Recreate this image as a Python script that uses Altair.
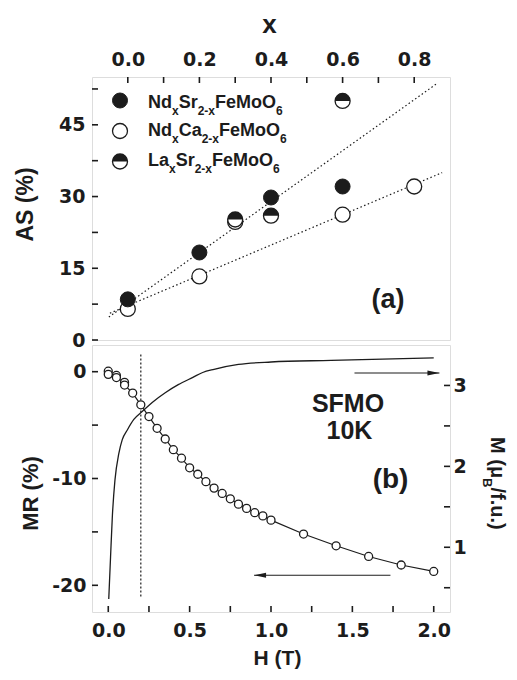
import altair as alt
import pandas as pd

# ---------------- panel (a) data ----------------
x_ndsr = [0.0, 0.2, 0.4, 0.6]
as_ndsr = [8.5, 18.3, 29.8, 32.1]
x_ndca = [0.0, 0.2, 0.3, 0.6, 0.8]
as_ndca = [6.5, 13.3, 24.7, 26.2, 32.1]
x_lasr = [0.3, 0.4, 0.6]
as_lasr = [25.2, 26.0, 50.0]
fit_upper_x = [-0.053, 0.861]
fit_upper_y = [4.8, 53.5]
fit_lower_x = [-0.05, 0.878]
fit_lower_y = [5.6, 35.0]
x_ticks = [0.0, 0.1, 0.2, 0.3, 0.4, 0.5, 0.6, 0.7, 0.8]
as_ticks = [0, 7.5, 15, 22.5, 30, 37.5, 45, 52.5]

# ---------------- panel (b) data ----------------
h_mr = [0.0, 0.0, 0.05, 0.05, 0.1, 0.1, 0.15, 0.2, 0.25, 0.3, 0.35, 0.4, 0.45, 0.5,
        0.55, 0.6, 0.65, 0.7, 0.75, 0.8, 0.85, 0.9, 0.95, 1.0, 1.2, 1.4, 1.6, 1.8, 2.0]
mr = [0.05, -0.25, -0.35, -0.55, -1.0, -1.25, -2.0, -3.1, -4.2, -5.3, -6.3, -7.3, -8.1, -9.0,
      -9.6, -10.3, -10.9, -11.4, -11.9, -12.4, -12.8, -13.2, -13.5, -13.9, -15.2, -16.3, -17.3, -18.1, -18.7]
h_m = [0.003, 0.014, 0.025, 0.041, 0.065, 0.086, 0.117, 0.157, 0.21, 0.27, 0.35, 0.43,
       0.52, 0.58, 0.65, 0.8, 1.0, 1.37, 2.0]
m = [0.36, 0.88, 1.38, 1.83, 2.16, 2.33, 2.45, 2.58, 2.68, 2.79, 2.91, 3.01,
     3.10, 3.16, 3.20, 3.26, 3.29, 3.31, 3.34]
h_ticks = [0.0, 0.25, 0.5, 0.75, 1.0, 1.25, 1.5, 1.75, 2.0]
mr_ticks = [-20, -15, -10, -5, 0]
m_ticks = [0.5, 1.0, 1.5, 2.0, 2.5, 3.0]

legend_rows = [
    [("Nd", 0), ("x", 1), ("Sr", 0), ("2-x", 1), ("FeMoO", 0), ("6", 1)],
    [("Nd", 0), ("x", 1), ("Ca", 0), ("2-x", 1), ("FeMoO", 0), ("6", 1)],
    [("La", 0), ("x", 1), ("Sr", 0), ("2-x", 1), ("FeMoO", 0), ("6", 1)],
]
m_title = [("M (μ", 0), ("B", 1), ("/f.u.)", 0)]

# ---------------- styling ----------------
INK = "#1c1c1c"
TICK = INK
LAB_FONT = "DejaVu Sans"
TXT_FONT = "Liberation Sans"
W, HA, HB, TS = 358, 263, 267, 6

# Arial/Liberation Sans Bold advance widths (per 1000 em)
AW = {" ": 278, "(": 333, ")": 333, "%": 889, "-": 333, ".": 278, "/": 278,
      "A": 722, "B": 722, "C": 722, "F": 611, "L": 611, "M": 833, "N": 722, "O": 778,
      "S": 667, "a": 556, "d": 611, "e": 556, "f": 333, "o": 611, "r": 389, "u": 611,
      "x": 556, "μ": 611}


def tw(s, fs):
    return sum(AW.get(c, 556) for c in s) * fs / 1000.0


def axis(**kw):
    base = dict(ticks=False, domain=False, grid=False,
                labelFont=LAB_FONT, labelFontSize=19, labelFontWeight="bold", labelColor=INK,
                labelOverlap=False, labelFlush=False,
                titleFont=TXT_FONT, titleFontWeight="bold", titleColor=INK)
    base.update(kw)
    return alt.Axis(**base)


ax_xa = axis(orient="top", values=x_ticks, labelPadding=8,
             labelExpr="round(datum.value*10) % 2 == 0 ? format(datum.value, '.1f') : ''",
             title="x", titleFontSize=26, titleX=177, titleY=-45, titleBaseline="alphabetic",
             titleAlign="center", titleAngle=0)
ax_ya = axis(orient="left", values=as_ticks, labelPadding=7,
             labelExpr="datum.value % 15 == 0 ? '' + datum.value : ''",
             title="AS (%)", titleFontSize=23, titleX=-60, titleY=127, titleAngle=270,
             titleBaseline="alphabetic", titleAlign="center")
ax_xb = axis(orient="bottom", values=h_ticks, labelPadding=9,
             labelExpr="round(datum.value*4) % 2 == 0 ? format(datum.value, '.1f') : ''",
             title="H (T)", titleFontSize=21, titleX=185, titleY=52, titleBaseline="alphabetic",
             titleAlign="center", titleAngle=0)
ax_mr = axis(orient="left", values=mr_ticks, labelPadding=6,
             labelExpr="datum.value % 10 == 0 ? '' + datum.value : ''",
             title="MR (%)", titleFontSize=22, titleX=-55, titleY=148, titleAngle=270,
             titleBaseline="alphabetic", titleAlign="center")
ax_m = axis(orient="right", values=m_ticks, labelPadding=3,
            labelExpr="datum.value % 1 == 0 ? '' + datum.value : ''", title=None)

sc_xa = alt.Scale(domain=[-0.1, 0.9], nice=False, zero=False)
sc_ya = alt.Scale(domain=[0, 55], nice=False, zero=False)
sc_xb = alt.Scale(domain=[-0.1, 2.1], nice=False, zero=False)
sc_mr = alt.Scale(domain=[-22.5, 2.5], nice=False, zero=False)
sc_m = alt.Scale(domain=[0.2, 3.5], nice=False, zero=False)


def XA(f):
    return alt.X(f"{f}:Q", scale=sc_xa, axis=ax_xa)


def YA(f):
    return alt.Y(f"{f}:Q", scale=sc_ya, axis=ax_ya)


def XB(f):
    return alt.X(f"{f}:Q", scale=sc_xb, axis=ax_xb)


def YMR(f):
    return alt.Y(f"{f}:Q", scale=sc_mr, axis=ax_mr)


def YM(f):
    return alt.Y(f"{f}:Q", scale=sc_m, axis=ax_m)


def tick_rules_x(values, enc, at_top, height):
    df = pd.DataFrame({"t": values})
    y0, y1 = (0, TS) if at_top else (height, height - TS)
    return alt.Chart(df).mark_rule(strokeWidth=1.6, color=TICK).encode(
        enc("t"), y=alt.value(y0), y2=alt.value(y1))


def tick_rules_y(values, enc, at_left):
    df = pd.DataFrame({"t": values})
    x0, x1 = (0, TS) if at_left else (W, W - TS)
    return alt.Chart(df).mark_rule(strokeWidth=1.6, color=TICK).encode(
        enc("t"), x=alt.value(x0), x2=alt.value(x1))


HALF = "M -1 0 A 1 1 0 0 1 1 0 Z"
BIG = 225


def open_pt(size):
    return alt.Chart().mark_point(shape="circle", filled=True, fill="white", stroke=INK,
                                  strokeWidth=1.3, size=size, opacity=1)


def text_pieces(parts, x0, y0, main_fs, sub_fs, sub_shift):
    layers = []
    pos = 0.0
    for t, sub in parts:
        fs = sub_fs if sub else main_fs
        layers.append(alt.Chart().mark_text(text=t, font=TXT_FONT, fontSize=fs, fontWeight="bold",
                                            align="left", baseline="alphabetic", color=INK)
                      .encode(x=alt.value(x0 + pos), y=alt.value(y0 + (sub_shift if sub else 0))))
        pos += tw(t, fs)
    return layers


# ---------------- panel (a) ----------------
df_fit = pd.DataFrame({"x": fit_upper_x + fit_lower_x, "v": fit_upper_y + fit_lower_y,
                       "g": ["u", "u", "l", "l"]})
df_ndsr = pd.DataFrame({"x": x_ndsr, "v": as_ndsr})
df_ndca = pd.DataFrame({"x": x_ndca, "v": as_ndca})
df_lasr = pd.DataFrame({"x": x_lasr, "v": as_lasr})

fits = alt.Chart(df_fit).mark_line(strokeDash=[1.5, 2.5], strokeWidth=1.2, color=INK).encode(
    XA("x"), YA("v"), detail="g:N")
ndca = open_pt(BIG).properties(data=df_ndca).encode(XA("x"), YA("v"))
ndsr = alt.Chart(df_ndsr).mark_point(shape="circle", filled=True, fill=INK, stroke=INK,
                                      strokeWidth=1, size=BIG, opacity=1).encode(XA("x"), YA("v"))
lasr_bg = open_pt(BIG).properties(data=df_lasr).encode(XA("x"), YA("v"))
lasr_top = alt.Chart(df_lasr).mark_point(shape=HALF, filled=True, fill=INK, strokeWidth=0,
                                          size=BIG, opacity=1).encode(XA("x"), YA("v"))

leg_y = [23.5, 54, 84.5]
leg_base = [30.5, 59, 88.5]
leg = [
    alt.Chart().mark_point(shape="circle", filled=True, fill=INK, stroke=INK, strokeWidth=1,
                           size=BIG, opacity=1).encode(x=alt.value(28), y=alt.value(leg_y[0])),
    open_pt(BIG).encode(x=alt.value(28), y=alt.value(leg_y[1])),
    open_pt(BIG).encode(x=alt.value(28), y=alt.value(leg_y[2])),
    alt.Chart().mark_point(shape=HALF, filled=True, fill=INK, strokeWidth=0, size=BIG,
                           opacity=1).encode(x=alt.value(28), y=alt.value(leg_y[2])),
]
for row, base in zip(legend_rows, leg_base):
    leg += text_pieces(row, 56, base, 18, 12, 7)

label_a = alt.Chart().mark_text(text="(a)", font=TXT_FONT, fontSize=27, fontWeight="bold",
                                align="center", baseline="alphabetic", color=INK).encode(
    x=alt.value(296), y=alt.value(231))

panel_a = alt.layer(
    fits, ndca, ndsr, lasr_bg, lasr_top, *leg, label_a,
    tick_rules_x(x_ticks, XA, True, HA), tick_rules_y(as_ticks, YA, True),
).properties(width=W, height=HA)

# ---------------- panel (b) ----------------
df_mr = pd.DataFrame({"h": h_mr, "mr": mr, "i": list(range(len(h_mr)))})
df_m = pd.DataFrame({"h": h_m, "m": m})
df_vline = pd.DataFrame({"h": [0.2], "y1": [1.6], "y2": [-21.2]})
df_arrows = pd.DataFrame({"h1": [1.513, 1.734], "h2": [2.035, 0.896], "y": [-0.12, -19.06]})

vline = alt.Chart(df_vline).mark_rule(strokeDash=[2, 2], strokeWidth=1.2, color=INK).encode(
    XB("h"), YMR("y1"), y2="y2")
mr_line = alt.Chart(df_mr).mark_line(strokeWidth=1.2, color=INK).encode(
    XB("h"), YMR("mr"), order="i:Q")
mr_pts = open_pt(64).properties(data=df_mr).encode(XB("h"), YMR("mr"))
arrow_lines = alt.Chart(df_arrows).mark_rule(strokeWidth=1.1, color=INK).encode(
    XB("h1"), x2="h2", y=YMR("y"))
head_r = alt.Chart(df_arrows.iloc[[0]]).mark_point(
    shape="M 0 0 L -2 -0.4 L -2 0.4 Z", filled=True, fill=INK, strokeWidth=0, size=144,
    opacity=1).encode(XB("h2"), YMR("y"))
head_l = alt.Chart(df_arrows.iloc[[1]]).mark_point(
    shape="M 0 0 L 2 -0.4 L 2 0.4 Z", filled=True, fill=INK, strokeWidth=0, size=144,
    opacity=1).encode(XB("h2"), YMR("y"))


def ann(t, x, y, fs):
    return alt.Chart().mark_text(text=t, font=TXT_FONT, fontSize=fs, fontWeight="bold",
                                 align="center", baseline="alphabetic", color=INK).encode(
        x=alt.value(x), y=alt.value(y))


texts_b = [ann("SFMO", 256, 67, 25), ann("10K", 257.5, 94, 25), ann("(b)", 298.5, 143, 28)]
# rotated right-hand title: x is the baseline position, y runs along the text
pos = 92.0
for t, sub in m_title:
    fs = 13 if sub else 20
    texts_b.append(alt.Chart().mark_text(text=t, font=TXT_FONT, fontSize=fs, fontWeight="bold",
                                         align="left", baseline="alphabetic", color=INK,
                                         angle=90).encode(
        x=alt.value(391 if sub else 398.5), y=alt.value(pos)))
    pos += tw(t, fs)

left_layer = alt.layer(vline, mr_line, arrow_lines, head_r, head_l, mr_pts, *texts_b,
                       tick_rules_x(h_ticks, XB, False, HB), tick_rules_y(mr_ticks, YMR, True))
m_line = alt.Chart(df_m).mark_line(strokeWidth=1.3, color=INK, interpolate="monotone").encode(
    XB("h"), YM("m"))
right_layer = alt.layer(m_line, tick_rules_y(m_ticks, YM, False))

panel_b = alt.layer(left_layer, right_layer).resolve_scale(y="independent").properties(
    width=W, height=HB)

chart = (alt.vconcat(panel_a, panel_b, spacing=5, bounds="flush")
         .properties(padding={"left": 5, "top": 2, "right": 0, "bottom": 0})
         .configure_view(stroke=INK, strokeWidth=2)
         .configure(background="white"))

chart.save("out.html", embed_options={"renderer": "svg", "actions": False})
